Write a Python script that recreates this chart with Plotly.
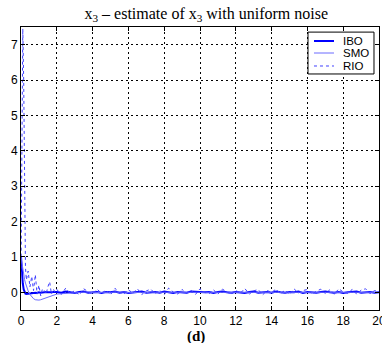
import plotly.graph_objects as go

t_early = [0, 0.05, 0.1, 0.15, 0.2, 0.25, 0.3, 0.4, 0.5, 0.6, 0.7, 0.8, 0.9, 1.0,
           1.1, 1.2, 1.3, 1.4, 1.5, 1.6, 1.7, 1.8, 1.9]
t_late = [2.0, 2.25, 2.5, 2.75, 3.0, 3.25, 3.5, 3.75, 4.0, 4.25, 4.5, 4.75, 5.0, 5.25,
          5.5, 5.75, 6.0, 6.25, 6.5, 6.75, 7.0, 7.25, 7.5, 7.75, 8.0, 8.25, 8.5, 8.75,
          9.0, 9.25, 9.5, 9.75, 10.0, 10.25, 10.5, 10.75, 11.0, 11.25, 11.5, 11.75, 12.0,
          12.25, 12.5, 12.75, 13.0, 13.25, 13.5, 13.75, 14.0, 14.25, 14.5, 14.75, 15.0,
          15.25, 15.5, 15.75, 16.0, 16.25, 16.5, 16.75, 17.0, 17.25, 17.5, 17.75, 18.0,
          18.25, 18.5, 18.75, 19.0, 19.25, 19.5, 19.75, 20.0]

ibo_early = [1.0, 0.55, 0.25, 0.08, 0.0, -0.04, -0.05, -0.04, -0.03, -0.02, -0.02, -0.01,
             -0.02, 0.0, -0.01, 0.0, -0.01, 0.01, 0.0, -0.01, 0.0, 0.01, 0.0]
ibo_late = [0.01, -0.01, 0.02, 0.0, -0.02, 0.01, 0.02, -0.01, 0.0, 0.01, -0.02, 0.01, 0.0, 0.02,
            -0.01, 0.01, -0.02, 0.0, 0.01, 0.02, -0.01, 0.0, 0.01, -0.01, 0.02, 0.0, -0.02, 0.01,
            0.0, -0.01, 0.02, 0.01, -0.01, 0.0, 0.01, -0.02, 0.01, 0.02, 0.0, -0.01, 0.01, 0.0,
            -0.02, 0.01, 0.02, -0.01, 0.0, 0.01, -0.01, 0.02, 0.0, -0.01, 0.01, 0.0, 0.02, -0.02,
            0.01, 0.0, -0.01, 0.01, 0.02, 0.0, -0.01, 0.01, -0.02, 0.0, 0.01, 0.02, -0.01, 0.0,
            0.01, -0.01, 0.0]

smo_early = [1.0, 0.8, 0.62, 0.48, 0.36, 0.26, 0.17, 0.04, -0.06, -0.13, -0.18, -0.21, -0.22,
             -0.22, -0.21, -0.19, -0.17, -0.15, -0.13, -0.11, -0.09, -0.08, -0.06]
smo_late = [-0.05, -0.04, -0.03, -0.02, -0.02, -0.01, 0.0, 0.01, -0.01, 0.0, 0.01, 0.0, -0.01,
            0.01, 0.0, 0.01, -0.01, 0.0, 0.01, 0.0, -0.01, 0.01, 0.0, 0.0, 0.01, -0.01, 0.0,
            0.01, 0.0, -0.01, 0.0, 0.01, 0.0, -0.01, 0.01, 0.0, 0.0, 0.01, -0.01, 0.0, 0.01,
            0.0, -0.01, 0.0, 0.01, 0.0, -0.01, 0.01, 0.0, 0.0, 0.01, -0.01, 0.0, 0.01, 0.0,
            -0.01, 0.0, 0.01, 0.0, -0.01, 0.01, 0.0, 0.0, -0.01, 0.01, 0.0, 0.01, -0.01, 0.0,
            0.0, 0.01, -0.01, 0.0]

rio_early = [0.5, 4.5, 7.45, 6.0, 2.0, 0.7, 0.35, 0.6, 0.15, 0.45, 0.05, 0.5, -0.05, 0.2,
             -0.1, 0.1, 0.05, -0.05, 0.15, 0.3, -0.05, 0.1, 0.0]
rio_late = [0.08, -0.06, 0.12, -0.04, 0.05, -0.08, 0.1, 0.02, -0.05, 0.09, -0.03, 0.06, -0.07,
            0.11, 0.0, -0.05, 0.07, -0.02, 0.1, -0.06, 0.04, 0.09, -0.04, 0.06, -0.07, 0.12,
            0.01, -0.05, 0.08, -0.03, 0.05, -0.06, 0.1, 0.0, -0.04, 0.07, -0.05, 0.09, 0.02,
            -0.06, 0.06, -0.03, 0.11, -0.05, 0.04, 0.08, -0.07, 0.05, 0.0, 0.09, -0.04, 0.06,
            -0.06, 0.1, -0.02, 0.05, 0.08, -0.05, 0.03, 0.09, -0.04, 0.07, -0.06, 0.1, 0.01,
            -0.03, 0.08, -0.05, 0.06, 0.1, -0.04, 0.05, 0.02]

x_ticks = [0, 2, 4, 6, 8, 10, 12, 14, 16, 18, 20]
y_ticks = [0, 1, 2, 3, 4, 5, 6, 7]

series_names = ["IBO", "SMO", "RIO"]
series_colors = ["#0000ff", "#6a6aff", "#4040ff"]
series_widths = [2, 1, 1]
series_dash = ["solid", "solid", "dot"]
series_values = [ibo_early + ibo_late, smo_early + smo_late, rio_early + rio_late]

t = t_early + t_late

fig = go.Figure()
for name, vals, col, w, d in zip(series_names, series_values, series_colors,
                                 series_widths, series_dash):
    fig.add_trace(go.Scatter(x=t, y=vals, mode="lines", name=name,
                             line=dict(color=col, width=w, dash=d), showlegend=False))

axis_common = dict(
    showline=True, linecolor="black", linewidth=1, mirror="ticks",
    ticks="inside", ticklen=4, tickcolor="black",
    showgrid=True, gridcolor="black", gridwidth=1, griddash="2px,3px",
    zeroline=False, ticklabeloverflow="allow", automargin=False,
    tickfont=dict(family="Liberation Sans, Arial", size=12, color="black"),
)

fig.update_xaxes(range=[0, 20], tickvals=x_ticks, **axis_common)
fig.update_yaxes(range=[-0.5, 7.5], tickvals=y_ticks, **axis_common)

# manual legend box (MATLAB style, compact)
shapes = [dict(type="rect", xref="paper", yref="paper", x0=0.8017, x1=0.986,
               y0=0.834, y1=0.982, line=dict(color="black", width=1), fillcolor="white",
               layer="above")]
annotations = []
legend_y = [0.9505, 0.9081, 0.8622]
for name, col, w, d, ly in zip(series_names, series_colors, series_widths, series_dash, legend_y):
    shapes.append(dict(type="line", xref="paper", yref="paper", x0=0.8184, x1=0.8743,
                       y0=ly, y1=ly, line=dict(color=col, width=w, dash=d), layer="above"))
    annotations.append(dict(text=name, xref="paper", yref="paper", x=0.8939, y=ly,
                            xanchor="left", yanchor="middle", showarrow=False,
                            font=dict(family="Liberation Sans, Arial", size=11.5, color="black")))

annotations.append(dict(text="<b>(d)</b>", xref="paper", yref="paper", x=0.49, y=-0.092,
                        xanchor="center", yanchor="middle", showarrow=False,
                        font=dict(family="Liberation Serif, Times New Roman", size=15,
                                  color="black")))

fig.update_layout(
    width=382, height=343,
    margin=dict(l=21, r=3, t=27, b=33),
    paper_bgcolor="white", plot_bgcolor="white",
    title=dict(text="x<sub>3</sub> – estimate of x<sub>3</sub> with uniform noise",
               x=0.54, xanchor="center", y=0.962, yanchor="middle",
               font=dict(family="Liberation Serif, Times New Roman", size=16, color="black")),
    showlegend=False,
    shapes=shapes,
    annotations=annotations,
)

fig.write_html("out.html")
